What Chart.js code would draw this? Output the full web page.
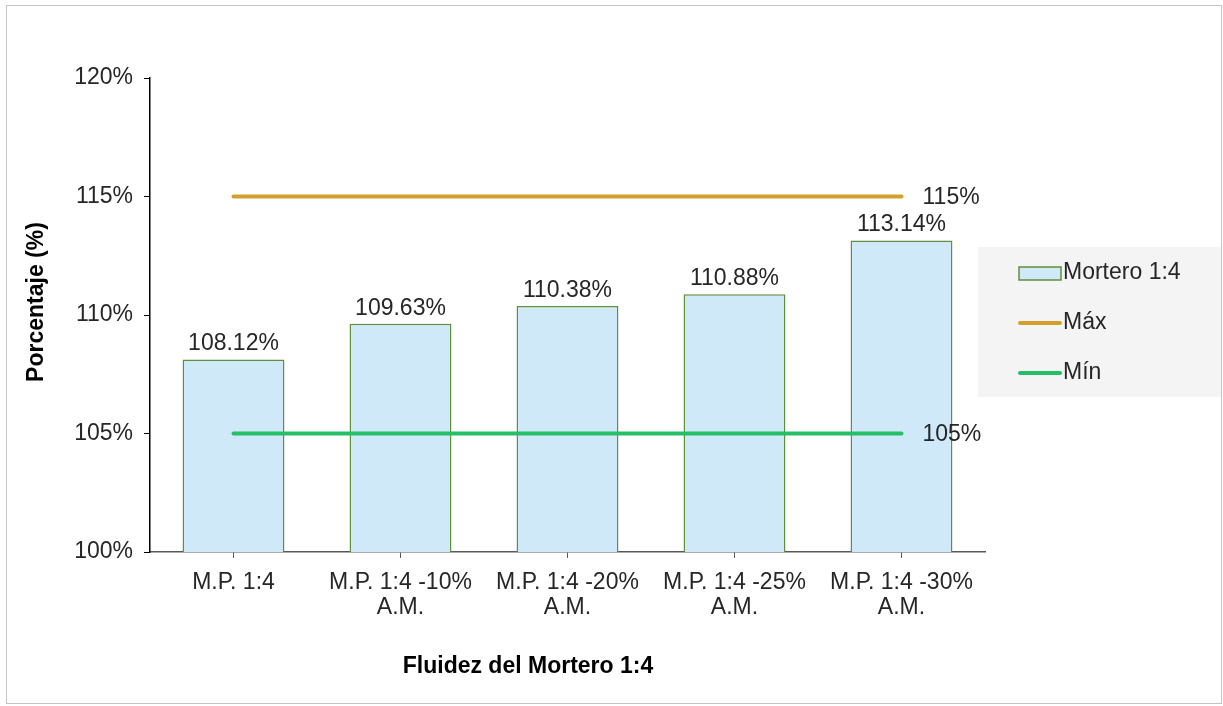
<!DOCTYPE html>
<html>
<head>
<meta charset="utf-8">
<script src="https://cdn.jsdelivr.net/npm/chart.js@4/dist/chart.umd.min.js"></script>
<style>
  body { margin: 0; background: #fff; }
  #wrap { position: relative; width: 1223px; height: 706px; }
  #frame { position: absolute; left: 6px; top: 5px; width: 1214px; height: 697px; border: 1px solid #c4c4c4; pointer-events: none; }
</style>
</head>
<body>
<div id="wrap">
  <canvas id="myChart" width="1223" height="706"></canvas>
  <div id="frame"></div>
</div>
<script>
const categories = [
    "M.P. 1:4",
    ["M.P. 1:4 -10%", "A.M."],
    ["M.P. 1:4 -20%", "A.M."],
    ["M.P. 1:4 -25%", "A.M."],
    ["M.P. 1:4 -30%", "A.M."]
];
const mortero = [108.12, 109.63, 110.38, 110.88, 113.14];
const maximo = [115, 115, 115, 115, 115];
const minimo = [105, 105, 105, 105, 105];
const yTicks = [100, 105, 110, 115, 120];

const FONT = "'Liberation Sans', Arial, sans-serif";
const TEXT = '#262626';

// value labels above the bars and at the end of the limit lines
const labelPlugin = {
    id: 'labels',
    afterDatasetsDraw(chart) {
        const ctx = chart.ctx;
        ctx.save();
        ctx.font = '23px ' + FONT;
        ctx.fillStyle = TEXT;
        chart.data.datasets.forEach((ds, i) => {
            const meta = chart.getDatasetMeta(i);
            if (ds.type === 'bar') {
                ctx.textAlign = 'center';
                ctx.textBaseline = 'bottom';
                meta.data.forEach((el, j) => {
                    ctx.fillText(ds.data[j].toFixed(2) + '%', el.x, el.y - 4);
                });
            } else {
                const last = meta.data[meta.data.length - 1];
                ctx.textAlign = 'left';
                ctx.textBaseline = 'middle';
                ctx.fillText(ds.data[ds.data.length - 1] + '%', last.x + 21, last.y + 1);
            }
        });
        ctx.restore();
    }
};

// axis titles and the legend box on the right
const decoPlugin = {
    id: 'deco',
    afterDraw(chart) {
        const ctx = chart.ctx;
        const area = chart.chartArea;
        ctx.save();
        ctx.fillStyle = '#000';
        ctx.font = 'bold 23px ' + FONT;
        ctx.textAlign = 'center';
        ctx.textBaseline = 'middle';
        ctx.fillText('Fluidez del Mortero 1:4', area.left + 378, area.bottom + 115);
        ctx.translate(37, area.top + 224);
        ctx.rotate(-Math.PI / 2);
        ctx.fillText('Porcentaje (%)', 0, 0);
        ctx.restore();

        // legend
        ctx.save();
        const lx = area.right - 7, ly = area.top + 169;
        ctx.fillStyle = '#f4f4f4';
        ctx.fillRect(lx, ly, 243, 150);
        ctx.font = '23px ' + FONT;
        ctx.textBaseline = 'middle';
        ctx.textAlign = 'left';
        chart.data.datasets.forEach((ds, i) => {
            const y = ly + 26 + i * 50;
            const sx = lx + 41;
            if (ds.type === 'bar') {
                ctx.fillStyle = ds.backgroundColor;
                ctx.fillRect(sx, y - 6, 42, 13);
                ctx.strokeStyle = ds.borderColor;
                ctx.lineWidth = 1.5;
                ctx.strokeRect(sx, y - 6, 42, 13);
            } else {
                ctx.strokeStyle = ds.borderColor;
                ctx.lineWidth = 4;
                ctx.lineCap = 'round';
                ctx.beginPath();
                ctx.moveTo(sx + 1, y);
                ctx.lineTo(sx + 41, y);
                ctx.stroke();
            }
            ctx.fillStyle = TEXT;
            ctx.fillText(ds.label, sx + 44, y);
        });
        ctx.restore();
    }
};

const data = {
    labels: categories,
    datasets: [
        {
            type: 'bar',
            label: 'Mortero 1:4',
            data: mortero,
            backgroundColor: '#cfe9f9',
            borderColor: '#5e8f3a',
            borderWidth: 1.5,
            barPercentage: 0.61,
            categoryPercentage: 1,
            order: 3
        },
        {
            type: 'line',
            label: 'Máx',
            data: maximo,
            borderColor: '#d3a02e',
            borderWidth: 4,
            borderCapStyle: 'round',
            pointRadius: 0,
            fill: false,
            order: 1
        },
        {
            type: 'line',
            label: 'Mín',
            data: minimo,
            borderColor: '#26bf68',
            borderWidth: 4,
            borderCapStyle: 'round',
            pointRadius: 0,
            fill: false,
            order: 2
        }
    ]
};

const config = {
    type: 'bar',
    data: data,
    plugins: [labelPlugin, decoPlugin],
    options: {
        responsive: false,
        animation: false,
        layout: { padding: { left: 0, top: 78, right: 238, bottom: 74 } },
        plugins: {
            legend: { display: false },
            tooltip: { enabled: false }
        },
        scales: {
            x: {
                offset: true,
                afterFit(scale) { scale.height = 80; },
                grid: { offset: false, drawOnChartArea: false, tickLength: 6, color: '#595959' },
                border: { color: '#595959', width: 1.5 },
                ticks: { color: TEXT, font: { family: FONT, size: 23, lineHeight: 1.1 }, padding: 12, maxRotation: 0, autoSkip: false }
            },
            y: {
                min: yTicks[0],
                max: yTicks[yTicks.length - 1],
                afterFit(scale) { scale.width = 150; },
                afterBuildTicks(scale) { scale.ticks = yTicks.map(v => ({ value: v })); },
                grid: { drawOnChartArea: false, tickLength: 6, color: '#000' },
                border: { color: '#000', width: 1.5 },
                ticks: {
                    color: TEXT,
                    padding: 11,
                    font: { family: FONT, size: 23 },
                    callback: v => v + '%'
                }
            }
        }
    }
};

const myChart = new Chart(document.getElementById('myChart'), config);
</script>
</body>
</html>
